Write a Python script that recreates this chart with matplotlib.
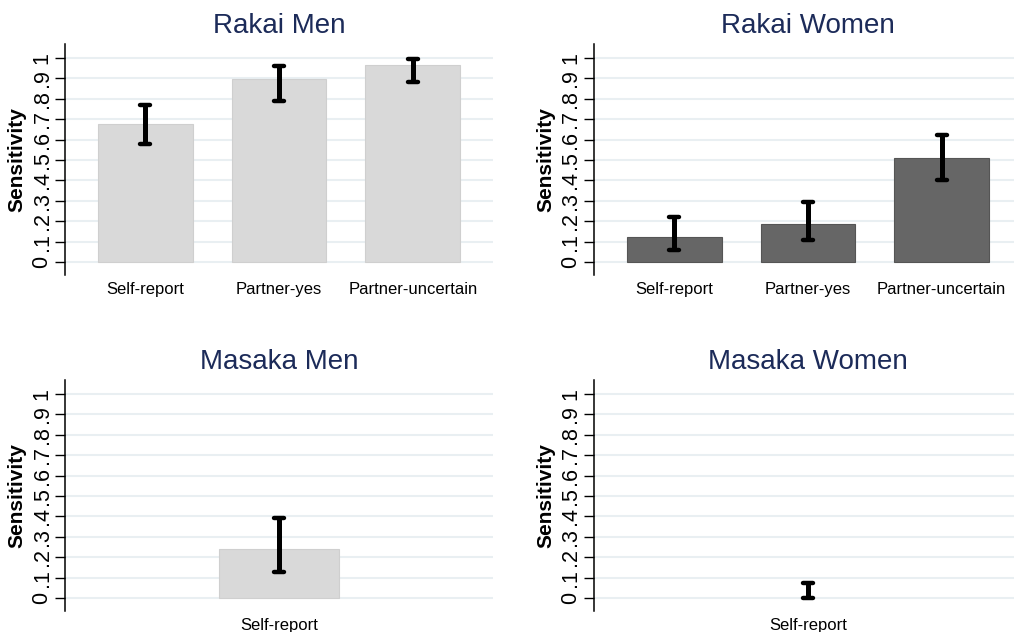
import matplotlib.pyplot as plt
import numpy as np
from matplotlib.markers import MarkerStyle

plt.rcParams['font.family'] = ['Liberation Sans', 'DejaVu Sans']

# sensitivity estimates with 95% CI, one list per panel
rakai_cats = ["Self-report", "Partner-yes", "Partner-uncertain"]
masaka_cats = ["Self-report"]

rakai_men = [0.678, 0.898, 0.966]
rakai_men_lo = [0.576, 0.790, 0.883]
rakai_men_hi = [0.771, 0.961, 0.995]

rakai_women = [0.122, 0.185, 0.512]
rakai_women_lo = [0.060, 0.107, 0.400]
rakai_women_hi = [0.220, 0.293, 0.624]

masaka_men = [0.239]
masaka_men_lo = [0.127]
masaka_men_hi = [0.390]

masaka_women = [0.0]
masaka_women_lo = [0.0]
masaka_women_hi = [0.073]

TITLE_COL = '#1c2b59'
GRID_COL = '#e9eff2'
LIGHT = '#d9d9d9'
DARK = '#666666'

fig = plt.figure(figsize=(10.14, 6.32), dpi=100)
W, H = 1014, 632


def add_panel(px_left, px_right, px_top, px_bottom):
    return fig.add_axes([px_left / W, 1 - px_bottom / H,
                         (px_right - px_left) / W, (px_bottom - px_top) / H])


def panel(ax, title, cats, vals, lo, hi, color, edge, half_span):
    x = np.arange(1, len(cats) + 1)
    ax.set_xlim(1 - half_span, len(cats) + half_span)
    ax.set_ylim(-0.063, 1.068)
    yt = np.arange(0, 11) / 10
    ax.set_yticks(yt)
    ax.set_yticklabels(['0'] + ['.%d' % i for i in range(1, 10)] + ['1'],
                       rotation=90, va='center', fontsize=15.5)
    for y in yt:
        ax.axhline(y, color=GRID_COL, lw=1.5, zorder=0)
    bars = ax.bar(x, vals, width=0.71, color=color, edgecolor=edge, lw=0.8,
                  zorder=2)
    for b in bars:
        if b.get_height() == 0:
            b.set_visible(False)
    # confidence intervals: thick stems with rounded caps
    ax.vlines(x, lo, hi, color='black', lw=3.6, zorder=3)
    cap = MarkerStyle('_', capstyle='round')
    ax.plot(x, lo, ls='none', marker=cap, ms=7.5, mew=3.2, color='black',
            zorder=4)
    ax.plot(x, hi, ls='none', marker=cap, ms=7.5, mew=3.2, color='black',
            zorder=4)
    ax.set_xticks(x)
    ax.set_xticklabels(cats, fontsize=12)
    ax.tick_params(axis='x', length=0, pad=5)
    ax.tick_params(axis='y', length=7, width=1, pad=2)
    for s in ['top', 'right', 'bottom']:
        ax.spines[s].set_visible(False)
    ax.spines['left'].set_linewidth(1.1)
    ax.set_ylabel('Sensitivity', fontsize=15, fontweight='bold', labelpad=4)
    ax.set_title(title, fontsize=20, color=TITLE_COL, pad=8)


ax1 = add_panel(65, 493, 44, 275)
panel(ax1, 'Rakai Men', rakai_cats, rakai_men, rakai_men_lo, rakai_men_hi,
      LIGHT, '#cfcfcf', 0.6)

ax2 = add_panel(594, 1022, 44, 275)
panel(ax2, 'Rakai Women', rakai_cats, rakai_women, rakai_women_lo,
      rakai_women_hi, DARK, '#555555', 0.6)

ax3 = add_panel(65, 493, 380, 611)
panel(ax3, 'Masaka Men', masaka_cats, masaka_men, masaka_men_lo,
      masaka_men_hi, LIGHT, '#cfcfcf', 1.256)

ax4 = add_panel(594, 1022, 380, 611)
panel(ax4, 'Masaka Women', masaka_cats, masaka_women, masaka_women_lo,
      masaka_women_hi, LIGHT, '#cfcfcf', 1.256)

fig.savefig('out.png', dpi=100)
